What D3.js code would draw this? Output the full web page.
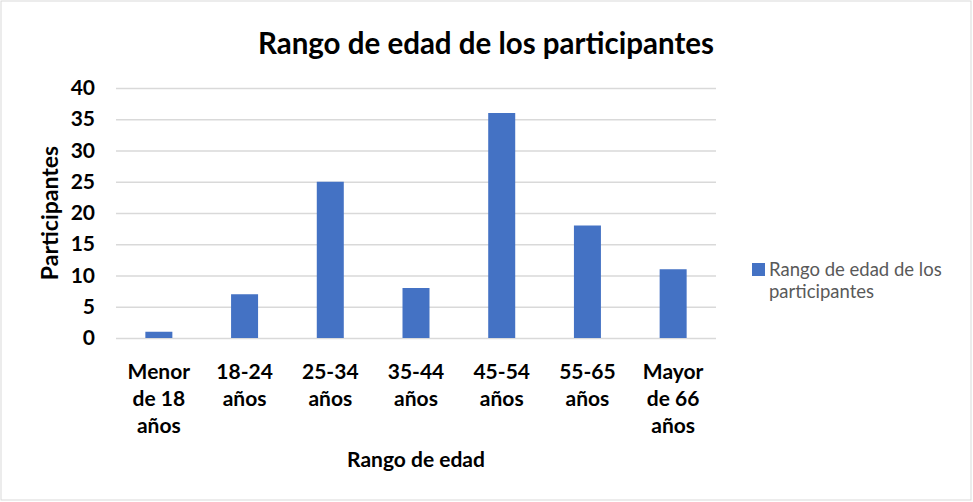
<!DOCTYPE html>
<html><head><meta charset="utf-8">
<script src="https://cdn.jsdelivr.net/npm/d3@7"></script>
<style>body{margin:0;background:#fff}svg{display:block;font-family:Lato,"Open Sans",sans-serif}</style>
</head><body>
<svg id="c" width="973" height="502"></svg>
<script>
const categories = [["Menor","de 18","años"],["18-24","años"],["25-34","años"],["35-44","años"],["45-54","años"],["55-65","años"],["Mayor","de 66","años"]];
const values = [1, 7, 25, 8, 36, 18, 11];
const yTicks = [0, 5, 10, 15, 20, 25, 30, 35, 40];
const title = "Rango de edad de los participantes";
const seriesName = ["Rango de edad de los", "participantes"];
const xTitle = "Rango de edad";
const yTitle = "Participantes";

(function(){
const svg = d3.select("#c");
svg.append("rect").attr("x",1).attr("y",1).attr("width",970).attr("height",499)
  .attr("fill","#fff").attr("stroke","#d9d9d9").attr("stroke-width",1);

const mL = 116, mR = 716, mT = 88, mB = 338;
const ids = categories.map((d,i)=>i);
const x = d3.scaleBand().domain(ids).range([mL,mR]).paddingInner(0.685).paddingOuter(0.3425);
const y = d3.scaleLinear().domain([0,40]).range([mB,mT]);

// gridlines
const gy = svg.append("g").attr("transform",`translate(${mL},0)`)
  .call(d3.axisLeft(y).tickValues(yTicks).tickSize(-(mR-mL)).tickFormat(""));
gy.select(".domain").remove();
gy.selectAll("line").attr("stroke","#d9d9d9").attr("stroke-width",1.5);

// y tick labels
const yl = svg.append("g").attr("transform",`translate(${mL},0)`)
  .call(d3.axisLeft(y).tickValues(yTicks).tickSize(0).tickPadding(21));
yl.select(".domain").remove();
yl.selectAll("text").attr("font-size",21).attr("font-weight","bold").attr("fill","#000")
  .attr("font-family","Lato, sans-serif");

// bars
svg.append("g").selectAll("rect").data(values).join("rect")
  .attr("x",(d,i)=>x(i)).attr("width",x.bandwidth())
  .attr("y",d=>y(d)).attr("height",d=>mB-y(d))
  .attr("fill","#4472c4");

// x labels
const xl = svg.append("g").attr("transform",`translate(0,${mB})`)
  .call(d3.axisBottom(x).tickSize(0).tickFormat(""));
xl.select(".domain").remove();
xl.selectAll(".tick").each(function(d){
  const t = d3.select(this).append("text").attr("text-anchor","middle")
    .attr("font-size",21).attr("font-weight","bold").attr("fill","#000")
    .attr("font-family","Lato, sans-serif");
  categories[d].forEach((line,j)=>{
    t.append("tspan").attr("x",0).attr("y",41+j*27).text(line);
  });
});

// title
svg.append("text").attr("x",486).attr("y",54).attr("text-anchor","middle")
  .attr("font-size",29.5).attr("font-weight","bold").attr("fill","#000").text(title);

// axis titles
svg.append("text").attr("x",416).attr("y",467).attr("text-anchor","middle")
  .attr("font-size",21).attr("font-weight","bold").attr("fill","#000").text(xTitle);
svg.append("text").attr("transform","translate(58,213) rotate(-90)").attr("text-anchor","middle")
  .attr("font-size",23).attr("font-weight","bold").attr("fill","#000").text(yTitle);

// legend
svg.append("rect").attr("x",752).attr("y",263).attr("width",13).attr("height",13).attr("fill","#4472c4");
const lt = svg.append("text").attr("font-size",18.5).attr("fill","#595959");
seriesName.forEach((s,j)=>lt.append("tspan").attr("x",769).attr("y",276+j*22).text(s));
})();
</script>
</body></html>
